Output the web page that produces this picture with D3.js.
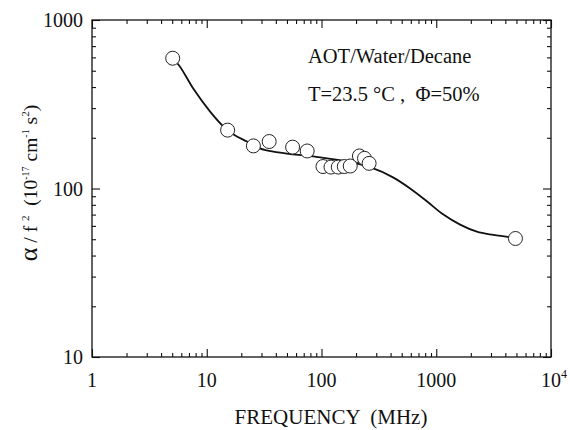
<!DOCTYPE html>
<html><head><meta charset="utf-8">
<script src="https://cdn.jsdelivr.net/npm/d3@7"></script>
<style>body{margin:0;background:#fff}svg{display:block}</style>
</head><body><div id="chart"></div>
<script>
// measured points
const freqMHz = [5.05, 15.2, 25.5, 35, 56, 75, 103, 121, 140, 158, 178, 214, 237, 260, 4900];
const alphaF2 = [593, 222, 179, 190, 176, 167, 135, 134, 134, 135, 136, 156, 151, 141, 50.5];
// fitted curve
const fitFreq = [5.05, 5.7, 7.6, 10.7, 14, 16.5, 22.4, 29, 42, 85, 190, 265, 424, 592, 828, 1155, 1615, 2258, 3150, 4400, 4900];
const fitVal  = [593, 541, 393, 286, 233, 213, 190, 173, 164, 155, 142, 134, 116, 100, 84, 70, 61, 55.4, 53, 51.3, 50.5];
const xTicks = [1, 10, 100, 1000, 10000];
const xTickLabels = ["1", "10", "100", "1000", "10^4"];
const yTicks = [10, 100, 1000];
const yTickLabels = ["10", "100", "1000"];
const annot = ["AOT/Water/Decane", "T=23.5 °C ,  Φ=50%"];

const FONT = '"Liberation Serif", serif';
const W = 570, H = 430;
const m = {l: 92, r: 551, t: 20, b: 357};
const svg = d3.select("#chart").append("svg").attr("width", W).attr("height", H)
  .style("font-family", FONT);
const x = d3.scaleLog().domain([1, 10000]).range([m.l, m.r]);
const y = d3.scaleLog().domain([10, 1000]).range([m.b, m.t]);

const minorX = [];
for (let d = 1; d < 10000; d *= 10) for (let k = 2; k <= 9; k++) minorX.push(d * k);
const minorY = [];
for (let d = 10; d < 1000; d *= 10) for (let k = 2; k <= 9; k++) minorY.push(d * k);

const g = svg.append("g");
function axis(gen, tr, major, minor) {
  const a = g.append("g").attr("transform", tr);
  a.call(gen.tickValues(major).tickSizeInner(-8).tickSizeOuter(0).tickFormat(""));
  a.append("g").call(gen.tickValues(minor).tickSizeInner(-4).tickSizeOuter(0).tickFormat(""));
  a.selectAll("path").remove();
  a.selectAll("line").attr("stroke", "#111").attr("stroke-width", 1.1);
  a.selectAll("text").remove();
  return a;
}
axis(d3.axisBottom(x), `translate(0,${m.b})`, xTicks, minorX);
axis(d3.axisTop(x), `translate(0,${m.t})`, xTicks, minorX);
axis(d3.axisLeft(y), `translate(${m.l},0)`, yTicks, minorY);
axis(d3.axisRight(y), `translate(${m.r},0)`, yTicks, minorY);
g.append("rect").attr("x", m.l).attr("y", m.t).attr("width", m.r - m.l).attr("height", m.b - m.t)
  .attr("fill", "none").attr("stroke", "#111").attr("stroke-width", 1.3);

function txt(sel) { return sel.style("font-family", FONT).attr("fill", "#111"); }

// tick labels
xTickLabels.forEach((s, i) => {
  const t = txt(g.append("text")).attr("x", x(xTicks[i])).attr("y", 387).attr("text-anchor", "middle")
    .attr("font-size", 20);
  if (s.includes("^")) {
    const [b, e] = s.split("^");
    t.attr("x", x(xTicks[i]) + 3);
    t.append("tspan").text(b);
    t.append("tspan").attr("font-size", 12).attr("dy", -9).text(e);
  } else t.text(s);
});
yTickLabels.forEach((s, i) => {
  txt(g.append("text")).attr("x", 83).attr("y", y(yTicks[i]) + 7).attr("text-anchor", "end")
    .attr("font-size", 20).text(s);
});

// axis titles
txt(g.append("text")).attr("x", 331).attr("y", 424).attr("text-anchor", "middle").attr("font-size", 21)
  .attr("xml:space", "preserve").text("FREQUENCY  (MHz)");
const yl = txt(g.append("text")).attr("transform", "translate(37,183) rotate(-90)").attr("text-anchor", "middle")
  .attr("font-size", 19.5).attr("xml:space", "preserve");
yl.append("tspan").attr("font-size", 26).text("α");
yl.append("tspan").text(" / f ");
yl.append("tspan").attr("font-size", 11).attr("dy", -8).text("2");
yl.append("tspan").attr("dy", 8).text("  (10");
yl.append("tspan").attr("font-size", 10).attr("dy", -8).text("-17");
yl.append("tspan").attr("dy", 8).text(" cm");
yl.append("tspan").attr("font-size", 10).attr("dy", -8).text("-1");
yl.append("tspan").attr("dy", 8).text(" s");
yl.append("tspan").attr("font-size", 11).attr("dy", -8).text("2");
yl.append("tspan").attr("dy", 8).text(")");

// annotation
txt(g.append("text")).attr("x", 308).attr("y", 63).attr("font-size", 20.5).text(annot[0]);
txt(g.append("text")).attr("x", 308).attr("y", 101).attr("font-size", 20.5)
  .attr("xml:space", "preserve").text(annot[1]);

// curve
const fit = fitFreq.map((f, i) => [f, fitVal[i]]);
g.append("path").datum(fit)
  .attr("d", d3.line().x(d => x(d[0])).y(d => y(d[1])).curve(d3.curveMonotoneX))
  .attr("fill", "none").attr("stroke", "#111").attr("stroke-width", 1.8);

// points
g.append("g").selectAll("circle").data(freqMHz.map((f, i) => [f, alphaF2[i]])).join("circle")
  .attr("cx", d => x(d[0])).attr("cy", d => y(d[1])).attr("r", 7)
  .attr("fill", "#fff").attr("stroke", "#222").attr("stroke-width", 1);
</script></body></html>
